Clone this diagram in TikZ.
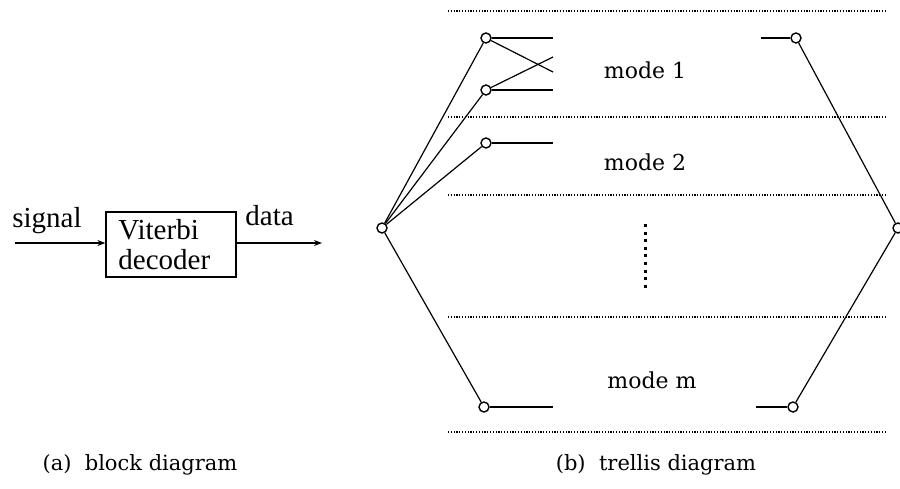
\documentclass[tikz,border=0pt]{standalone}
\usepackage{fontspec}
\setmainfont{DejaVu Serif}
\newfontfamily\blockfont{Liberation Serif}
\usetikzlibrary{arrows.meta}
\begin{document}
\begin{tikzpicture}[x=0.5pt,y=-0.5pt,
  st/.style={circle,draw,fill=white,inner sep=0pt,minimum size=5pt,line width=0.7pt},
  edge/.style={line width=0.6pt},
  sep/.style={line width=0.55pt,dash pattern=on 0.6pt off 0.8pt},
  btxt/.style={font=\blockfont\fontsize{14.5}{16}\selectfont,inner sep=0pt},
  mtxt/.style={font=\fontsize{11}{13}\selectfont,inner sep=0pt},
  ctxt/.style={font=\fontsize{10.5}{12}\selectfont,inner sep=0pt},
  arr/.style={line width=0.6pt,-{Stealth[length=4pt,width=3pt]}}]
\useasboundingbox (0,0) rectangle (900,488);
% (a) block diagram
\node[draw,line width=0.6pt,minimum width=65pt,minimum height=32.5pt,inner sep=0pt] (box) at (171,244.5) {};
\node[btxt,anchor=west] (v1) at (118,230) {Viterbi};
\node[btxt,anchor=west] (v2) at (118,260) {decoder};
\coordinate (in) at (15,243);
\coordinate (out) at (322,243);
\draw[arr] (in) -- (in -| box.west);
\draw[arr] (out -| box.east) -- (out);
\node[btxt,anchor=base west] (sig) at (12,227) {signal};
\node[btxt,anchor=base west] (dat) at (245,225) {data};
\node[ctxt,anchor=base] (capa) at (140,470) {(a)\ \ block diagram};
% (b) trellis
\foreach \yy/\nm in {11/d0,117/d1,195/d2,317/d3,432/d4}{
  \coordinate (\nm a) at (448,\yy); \coordinate (\nm b) at (885,\yy);
  \draw[sep] (\nm a) -- (\nm b);
}
\node[st] (L) at (382,228) {};
\node[st] (n1) at (486,38) {};
\node[st] (n2) at (486,90) {};
\node[st] (n3) at (486,143) {};
\node[st] (nm) at (484,407) {};
\node[st] (r1) at (796,38) {};
\node[st] (rm) at (793,407) {};
\node[st] (R) at (898,228) {};
\coordinate (s1) at (553,38);
\coordinate (s2) at (553,90);
\coordinate (s3) at (553,143);
\coordinate (sm) at (553,407);
\coordinate (c1) at (553,72);
\coordinate (c2) at (553,57);
\coordinate (t1) at (761,38);
\coordinate (tm) at (756,407);
\draw[edge] (L) -- (n1);
\draw[edge] (L) -- (n2);
\draw[edge] (L) -- (n3);
\draw[edge] (L) -- (nm);
\draw[edge] (n1) -- (s1);
\draw[edge] (n2) -- (s2);
\draw[edge] (n3) -- (s3);
\draw[edge] (nm) -- (sm);
\draw[edge] (n1) -- (c1);
\draw[edge] (n2) -- (c2);
\draw[edge] (t1) -- (r1);
\draw[edge] (tm) -- (rm);
\draw[edge] (R) -- (r1);
\draw[edge] (R) -- (rm);
\node[mtxt] (m1) at (645,70) {mode 1};
\node[mtxt] (m2) at (645,162) {mode 2};
\node[mtxt] (mm) at (652,380) {mode m};
\coordinate (dt) at (645,224);
\coordinate (db) at (645,290);
\draw[line width=1.5pt,dash pattern=on 1.5pt off 2.3pt] (dt) -- (db);
\node[ctxt,anchor=base] (capb) at (656,470) {(b)\ \ trellis diagram};
\end{tikzpicture}
\end{document}
